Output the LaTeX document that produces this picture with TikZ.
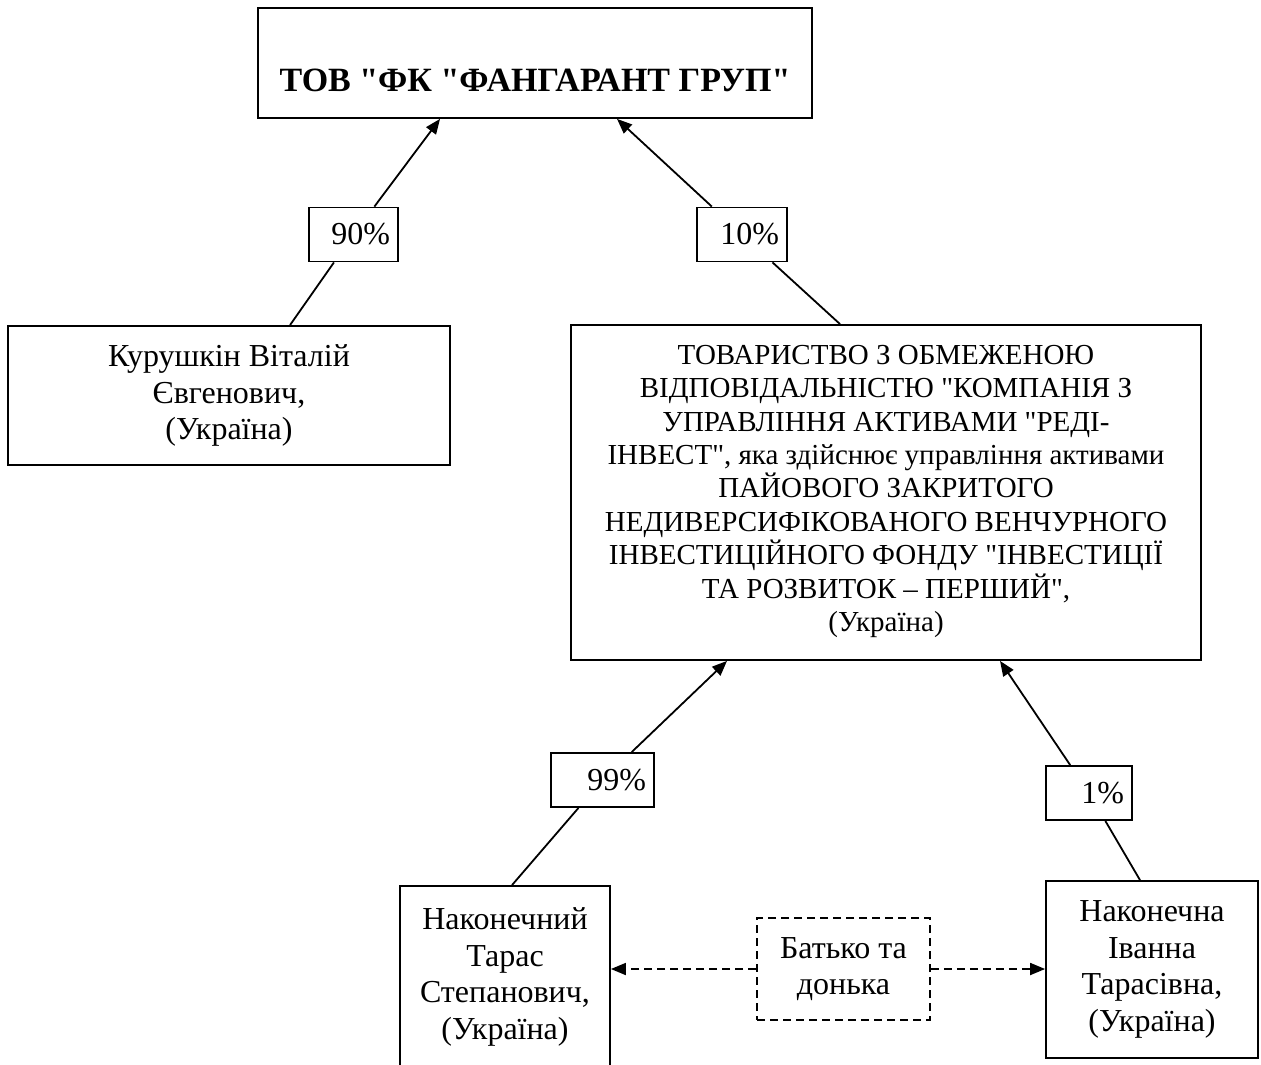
\documentclass[tikz,border=0pt]{standalone}
\usepackage{fontspec}
\setmainfont{Liberation Serif}[Ligatures=TeXOff]
\usetikzlibrary{arrows.meta,calc}
\newcommand\tightlines{\lineskiplimit=-20pt\relax}

\begin{document}
\begin{tikzpicture}[
  x=0.5pt,y=-0.5pt,line width=0.9pt,
  box/.style={draw,align=center,inner sep=0pt,
              font=\fontsize{16pt}{18.3pt}\selectfont},
  pct/.style={draw,fill=white,align=right,inner xsep=4pt,inner ysep=0pt,
              minimum height=27pt,text width=#1,
              font=\fontsize{16pt}{18pt}\selectfont},
  arr/.style={-{Triangle[length=7.5pt,width=6pt]}},
  rel/.style={dash pattern=on 4pt off 2.5pt}
]
  \useasboundingbox (0,0) rectangle (1261,1064);

  % owners and company
  \node[box,minimum width=277pt,minimum height=55pt,text height=28.2pt,text depth=0pt,
        font=\fontsize{17pt}{20pt}\selectfont\bfseries] (top) at (535,63)
        {ТОВ "ФК "ФАНГАРАНТ ГРУП"};
  \node[box,minimum width=221pt,minimum height=69.5pt] (kur) at (229,395.5)
        {Курушкін Віталій\\Євгенович,\\(Україна)};
  \node[box,minimum width=315pt,minimum height=167.5pt,text height=143.2pt,text depth=4.2pt,
        font=\fontsize{14.5pt}{16.7pt}\selectfont\tightlines] (fund) at (886,492.5)
        {ТОВАРИСТВО З ОБМЕЖЕНОЮ\\ВІДПОВІДАЛЬНІСТЮ "КОМПАНІЯ З\\УПРАВЛІННЯ АКТИВАМИ "РЕДІ-\\ІНВЕСТ", яка здійснює управління активами\\ПАЙОВОГО ЗАКРИТОГО\\НЕДИВЕРСИФІКОВАНОГО ВЕНЧУРНОГО\\ІНВЕСТИЦІЙНОГО ФОНДУ "ІНВЕСТИЦІЇ\\ТА РОЗВИТОК – ПЕРШИЙ",\\(Україна)};
  \node[box,minimum width=105pt,minimum height=91pt] (taras) at (505,977)
        {Наконечний\\Тарас\\Степанович,\\(Україна)};
  \node[box,minimum width=106pt,minimum height=88.5pt] (ivanna) at (1152,969.5)
        {Наконечна\\Іванна\\Тарасівна,\\(Україна)};
  \node[box,rel,minimum width=86.5pt,minimum height=51pt] (kin) at (843.5,969)
        {Батько та\\донька};

  % shares
  \node[pct=36.5pt] (p90) at (353.5,234.5) {90\%};
  \node[pct=37pt] (p10) at (742,234.5) {10\%};
  \node[pct=43.5pt] (p99) at (602.5,780) {99\%};
  \node[pct=35pt] (p1) at (1089,793) {1\%};

  \draw ($(kur.north)+(61,0)$) -- (p90);
  \draw[arr] (p90) -- ($(top.south)+(-95,0)$);
  \draw ($(fund.north)+(-46,0)$) -- (p10);
  \draw[arr] (p10) -- ($(top.south)+(82,0)$);
  \draw ($(taras.north)+(7,0)$) -- (p99);
  \draw[arr] (p99) -- ($(fund.south)+(-159,0)$);
  \draw ($(ivanna.north)+(-12,0)$) -- (p1);
  \draw[arr] (p1) -- ($(fund.south)+(114,0)$);

  % relation
  \draw[rel,arr] (kin.west) -- (kin.west -| taras.east);
  \draw[rel,arr] (kin.east) -- (kin.east -| ivanna.west);
\end{tikzpicture}
\end{document}
